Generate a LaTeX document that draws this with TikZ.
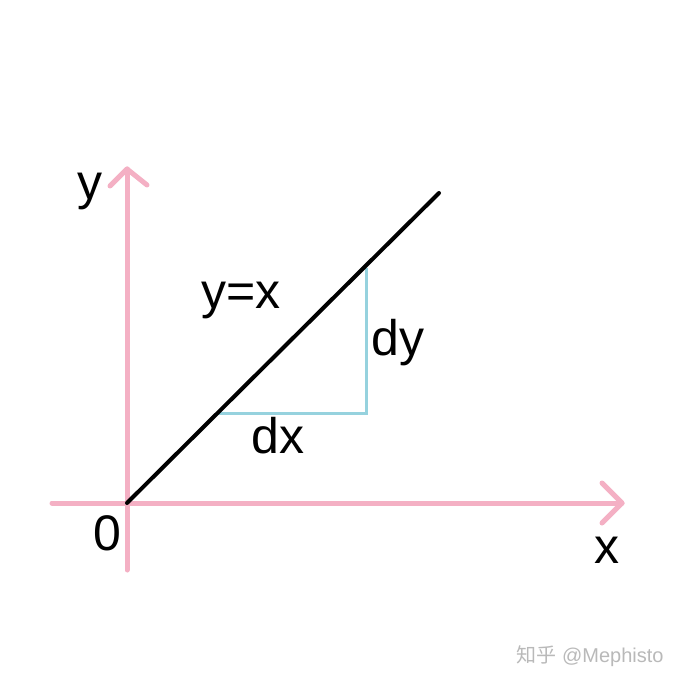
\documentclass[tikz,border=0pt]{standalone}
\usepackage{fontspec}
\setmainfont{Liberation Sans}
\newfontfamily\cjkfont{Noto Sans CJK SC}
\definecolor{axis_pink}{RGB}{244,176,196}
\definecolor{step_blue}{RGB}{150,210,222}
\definecolor{mark_gray}{RGB}{185,185,185}
\begin{document}
\begin{tikzpicture}[x=1pt,y=-1pt,
axis_style/.style={draw=axis_pink,line width=5pt,line cap=round,line join=round},
line_style/.style={draw=black,line width=4pt,line cap=round},
step_style/.style={draw=step_blue,line width=3pt},
label_style/.style={anchor=base,inner sep=0pt,font=\fontsize{50}{58}\selectfont},
mark_style/.style={anchor=base,inner sep=0pt,text=mark_gray,font=\fontsize{20}{24}\selectfont}]
\useasboundingbox (0,0) rectangle (684,684);
% axes
\coordinate (o) at (127,503);
\coordinate (x0) at (52,503);
\coordinate (x1) at (622,503);
\coordinate (y0) at (127,570);
\coordinate (y1) at (127,169);
\coordinate (xa) at (602,483);
\coordinate (xb) at (602,523);
\coordinate (ya) at (110,186);
\coordinate (yb) at (147,185);
\draw[axis_style] (x0) -- (x1);
\draw[axis_style] (y0) -- (y1);
\draw[axis_style] (xa) -- (x1) -- (xb);
\draw[axis_style] (ya) -- (y1) -- (yb);
% y = x and the small step
\coordinate (p1) at (439,193);
\coordinate (s0) at (217,413);
\coordinate (s1) at (366,413);
\coordinate (s2) at (366,268);
\draw[step_style] (s0) -- (s1) -- (s2);
\draw[line_style] (o) -- (p1);
% labels
\node[label_style] (ly) at (90,200) {y};
\node[label_style] (lo) at (107,550) {0};
\node[label_style] (lx) at (607,563) {x};
\node[label_style] (lyx) at (241,308) {y=x};
\node[label_style] (ldy) at (398,355) {dy};
\node[label_style] (ldx) at (278,453) {dx};
\node[mark_style] (wm) at (590,662) {{\cjkfont 知乎} @Mephisto};
\end{tikzpicture}
\end{document}
